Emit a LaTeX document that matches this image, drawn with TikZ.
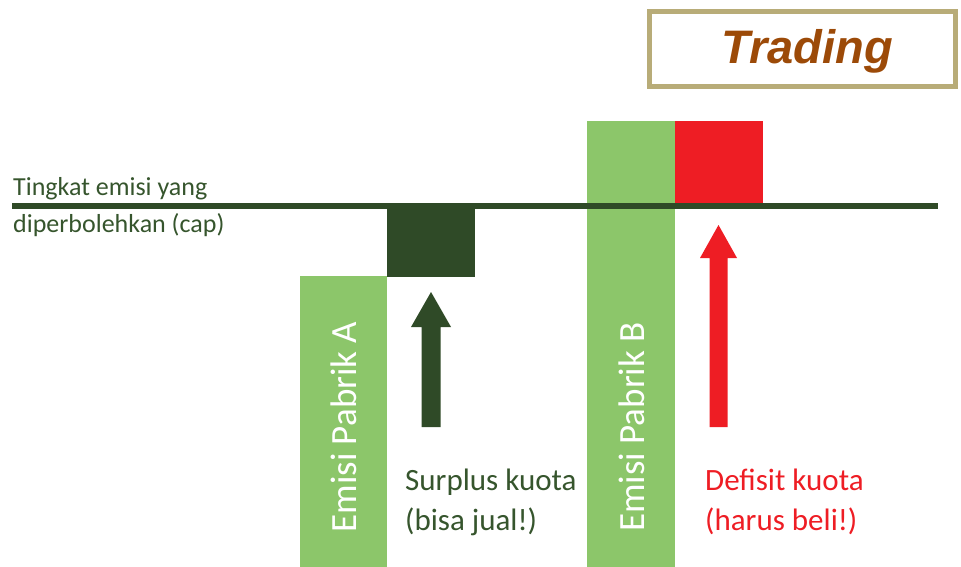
\documentclass[tikz,border=0pt]{standalone}
\usepackage{fontspec}
\setmainfont{Carlito}
\newfontfamily\tradfont{Liberation Sans}
\definecolor{lgreen}{HTML}{8CC66A}
\definecolor{dgreen}{HTML}{2F4A27}
\definecolor{tgreen}{HTML}{36552D}
\definecolor{dred}{HTML}{EE1D24}
\definecolor{khaki}{HTML}{B8AC78}
\definecolor{brown}{HTML}{9C4A08}
\begin{document}
\begin{tikzpicture}[x=1pt,y=-1pt,
  bar/.style={fill=lgreen,draw=none},
  capline/.style={draw=dgreen,line width=5.5pt},
  lbl/.style={anchor=base west,inner sep=0pt,font=\fontsize{26}{30}\selectfont,text=tgreen},
  lbig/.style={lbl,font=\fontsize{31}{35}\selectfont},
  vlbl/.style={rotate=90,text=white,inner sep=0pt,font=\fontsize{37}{42}\selectfont}
]
\useasboundingbox (0,0) rectangle (961,567);
% Trading box
\node[draw=khaki,line width=5pt,minimum width=306pt,minimum height=75pt,inner sep=0pt] (trade) at (802.5,49) {};
\node[font=\tradfont\fontsize{47}{52}\selectfont\bfseries\itshape,text=brown] (tradetxt) at (807,51) {Trading};
% bars
\path[bar] (300,276) rectangle (387,567);
\path[fill=dgreen] (387,208) rectangle (475,277);
\path[bar] (587,121) rectangle (675,567);
\path[fill=dred] (675,121) rectangle (763,205);
% cap line
\coordinate (capL) at (12,206);
\coordinate (capR) at (938,206);
\draw[capline] (capL) -- (capR);
\node[lbl] (t1) at (13,195) {Tingkat emisi yang};
\node[lbl] (t2) at (13,232) {diperbolehkan (cap)};
% vertical labels
\node[vlbl] (ea) at (344,427) {Emisi Pabrik A};
\node[vlbl] (eb) at (631.5,427) {Emisi Pabrik B};
% arrows
\fill[dgreen] (421.5,427) -- (421.5,327) -- (411,327) -- (431,292) -- (451,327) -- (440.5,327) -- (440.5,427) -- cycle;
\fill[dred] (709.5,427) -- (709.5,258) -- (700,258) -- (718.5,225) -- (737,258) -- (727.5,258) -- (727.5,427) -- cycle;
% texts
\node[lbig] (s1) at (405,490) {Surplus kuota};
\node[lbig] (s2) at (405,530) {(bisa jual!)};
\node[lbig,text=dred] (d1) at (705,490) {Defisit kuota};
\node[lbig,text=dred] (d2) at (705,530) {(harus beli!)};
\end{tikzpicture}
\end{document}
